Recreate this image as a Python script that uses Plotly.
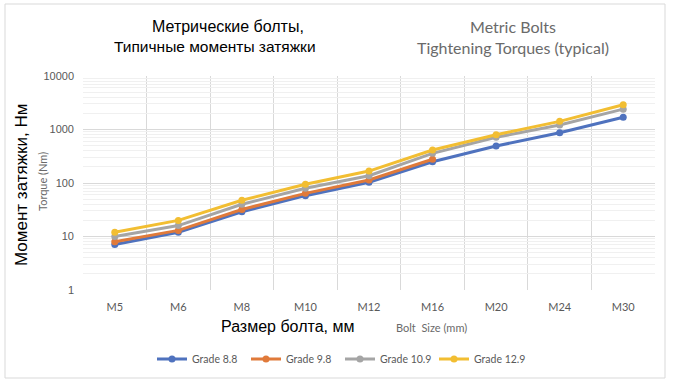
import plotly.graph_objects as go

categories = ["M5", "M6", "M8", "M10", "M12", "M16", "M20", "M24", "M30"]
grade_8_8 = [7.1, 12, 29, 58, 103, 250, 490, 870, 1700]
grade_9_8 = [8, 13, 32, 64, 114, 278, None, None, None]
grade_10_9 = [10, 16, 40, 80, 137, 358, 715, 1210, 2400]
grade_12_9 = [12, 20, 47.5, 95, 167, 414, 800, 1420, 2900]
series_names = ["Grade 8.8", "Grade 9.8", "Grade 10.9", "Grade 12.9"]
series_values = [grade_8_8, grade_9_8, grade_10_9, grade_12_9]
colors = ["#4F72BE", "#E07A3A", "#A5A5A5", "#F2BE32"]
y_ticks = [1, 10, 100, 1000, 10000]

xs = list(range(len(categories)))
fig = go.Figure()
for name, vals, col in zip(series_names, series_values, colors):
    fig.add_trace(go.Scatter(
        x=xs, y=vals, name=name, mode="lines+markers",
        line=dict(color=col, width=3),
        marker=dict(color=col, size=7, symbol="circle"),
        connectgaps=False,
    ))

L, R, T, B = 83, 19, 76, 95
W, H = 674, 385
pw, ph = W - L - R, H - T - B

def px(x):
    return (x - L) / pw

def py(y):
    return (H - B - y) / ph

minor_vals = []
for d in [1, 10, 100, 1000]:
    for k in range(2, 10):
        minor_vals.append(d * k)

sub_font = "Lato, Calibri, sans-serif"
narrow = "Liberation Sans Narrow, Arial Narrow, sans-serif"
ann = [
    dict(x=px(228), y=py(27), text="Метрические болты,",
         font=dict(family=narrow, size=16, color="#000000")),
    dict(x=px(215), y=py(46), text="Типичные моменты затяжки",
         font=dict(family=narrow, size=15.5, color="#000000")),
    dict(x=px(513), y=py(37), text="Metric Bolts<br>Tightening Torques (typical)",
         font=dict(family=sub_font, size=16, color="#6a6a6a")),
    dict(x=px(21), y=py(185), text="Момент затяжки, Нм", textangle=-90,
         font=dict(family="Liberation Sans, Arial, sans-serif", size=17, color="#000000")),
    dict(x=px(42), y=py(182), text="Torque (Nm)", textangle=-90,
         font=dict(family=sub_font, size=11, color="#6a6a6a")),
    dict(x=px(287), y=py(326), text="Размер болта, мм",
         font=dict(family="Liberation Sans, Arial, sans-serif", size=16, color="#000000")),
    dict(x=px(431), y=py(327), text="Bolt  Size (mm)",
         font=dict(family=sub_font, size=11, color="#6a6a6a")),
]
for a in ann:
    a.update(xref="paper", yref="paper", showarrow=False, xanchor="center", yanchor="middle")

fig.update_layout(
    width=W, height=H,
    margin=dict(l=L, r=R, t=T, b=B),
    paper_bgcolor="white", plot_bgcolor="white",
    annotations=ann,
    showlegend=True,
    legend=dict(orientation="h", x=px(340), xanchor="center", y=py(359), yanchor="middle",
                font=dict(family=sub_font, size=10.5, color="#595959"),
                bgcolor="rgba(0,0,0,0)", itemwidth=30, entrywidth=49),
    shapes=[dict(type="rect", xref="paper", yref="paper",
                 x0=px(5), x1=px(665), y0=py(378), y1=py(4),
                 line=dict(color="#D9D9D9", width=1), layer="below")],
)
fig.update_xaxes(
    range=[-0.5, len(categories) - 0.5],
    tickvals=xs, ticktext=categories,
    showgrid=False, zeroline=False, showline=False, ticks="", ticklabelstandoff=9,
    tickfont=dict(family=sub_font, size=11, color="#595959"),
    minor=dict(tickvals=[i - 0.5 for i in range(len(categories) + 1)],
               showgrid=True, gridcolor="#D9D9D9", gridwidth=1, ticks=""),
)
fig.update_yaxes(
    type="log", range=[0, 4],
    tickvals=y_ticks, ticktext=[str(v) for v in y_ticks],
    showgrid=True, gridcolor="#D9D9D9", gridwidth=1,
    zeroline=False, showline=False, ticks="", ticklabelstandoff=8,
    tickfont=dict(family="Liberation Sans, Arial, sans-serif", size=11, color="#595959"),
    minor=dict(tickvals=minor_vals, showgrid=True, gridcolor="#F0F0F0", gridwidth=1, ticks=""),
)

fig.write_html("out.html", config={"displayModeBar": False},
               post_script="document.body.style.margin='0';")
